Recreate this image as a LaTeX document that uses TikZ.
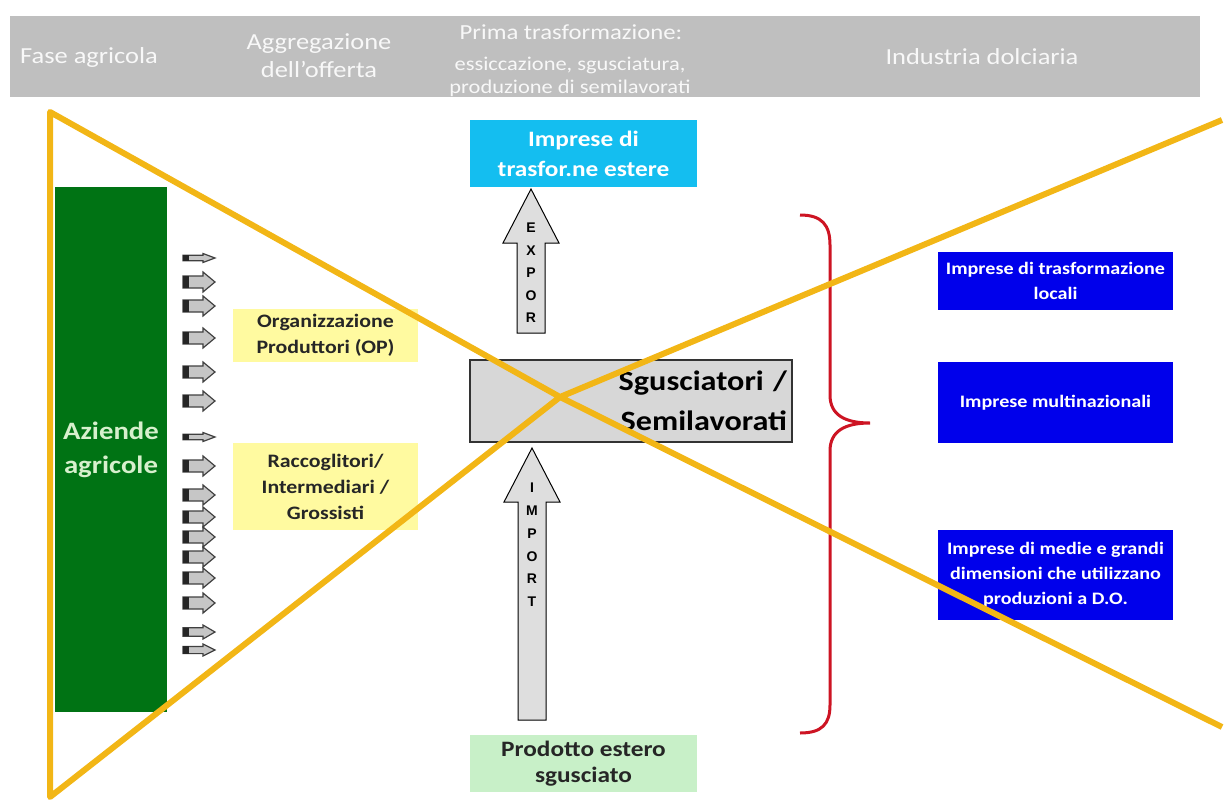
\documentclass[tikz,border=0pt]{standalone}
\usepackage{fontspec}
\setmainfont{Carlito}[FakeStretch=1.15]
\newfontfamily\arialfont{Liberation Sans}
\usepackage{tikz}

\begin{document}
\begin{tikzpicture}[x=1pt,y=-1pt,
  hdrtext/.style={text=hdrText, align=center, inner sep=0pt, font=\fontsize{23}{28}\selectfont},
  plainbox/.style={inner sep=0pt, align=center, text=black!85, font=\bfseries\fontsize{19}{26}\selectfont},
  bluebox/.style={plainbox, fill=firmBlue, text=white, minimum width=235, font=\bfseries\fontsize{17.5}{25}\selectfont},
  funnel/.style={line width=6pt, draw=funnelOrange, line join=round},
  bigarrow/.style={fill=arrowGray, draw=black, line width=1pt},
  letter/.style={inner sep=0pt, font=\arialfont\bfseries\fontsize{14}{14}\selectfont}]
\definecolor{hdrGray}{RGB}{191,191,191}
\definecolor{hdrText}{RGB}{248,248,248}
\definecolor{funnelOrange}{RGB}{242,182,22}
\definecolor{farmGreen}{RGB}{0,115,20}
\definecolor{farmText}{RGB}{215,240,205}
\definecolor{opYellow}{RGB}{255,250,160}
\definecolor{esteriCyan}{RGB}{20,190,240}
\definecolor{sguGray}{RGB}{215,215,215}
\definecolor{prodGreen}{RGB}{200,240,200}
\definecolor{firmBlue}{RGB}{0,0,235}
\definecolor{braceRed}{RGB}{205,20,35}
\definecolor{arrowGray}{RGB}{222,222,222}
\useasboundingbox (0,0) rectangle (1224,801);
% header
\fill[hdrGray] (10,16) rectangle (1200,97);
\node[hdrtext] (fase) at (89,57) {Fase agricola};
\node[hdrtext] (aggr) at (319,56) {Aggregazione\\dell'offerta};
\node[hdrtext, font=\fontsize{21.5}{28}\selectfont] (prima) at (571,32) {Prima trasformazione:};
\node[hdrtext, font=\fontsize{19.5}{23}\selectfont] (essic) at (570,76.5) {essiccazione, sgusciatura,\\produzione di semilavorati};
\node[hdrtext] (ind) at (982,57) {Industria dolciaria};
% fase agricola
\node[plainbox, fill=farmGreen, text=farmText, minimum width=112, minimum height=525, font=\bfseries\fontsize{25}{34}\selectfont] (aziende) at (111,449.5) {Aziende\\agricole};
\foreach \y/\s in {258/0.45,282/1,306/1,338/1,372/1,401/1,437/0.45,466/1,495/1,517/1,537/1,557/1,578/1,603/1,632/0.7,650/0.6}
{
  \begin{scope}[shift={(183,\y)},yscale=\s]
    \draw[fill=gray!45, draw=black!75, line width=1.2pt] (0,-6) -- (20,-6) -- (20,-10) -- (32,0) -- (20,10) -- (20,6) -- (0,6) -- cycle;
    \fill[black!85] (0,-6) rectangle (6,6);
  \end{scope}
}
% aggregazione
\node[plainbox, fill=opYellow, minimum width=185, minimum height=53] (op) at (325.5,335.5) {Organizzazione\\Produttori (OP)};
\node[plainbox, fill=opYellow, minimum width=185, minimum height=87] (racc) at (325.5,486.5) {Raccoglitori/\\Intermediari /\\Grossisti};
% prima trasformazione
\node[plainbox, fill=esteriCyan, text=white, minimum width=227, minimum height=67, font=\bfseries\fontsize{22}{30}\selectfont] (estere) at (583.5,153.5) {Imprese di\\trasfor.ne estere};
\node[draw=black!80, line width=1.5pt, fill=sguGray, text width=312, inner xsep=5, inner ysep=0pt, minimum height=82, align=right, font=\bfseries\fontsize{28}{40}\selectfont] (sgu) at (631,401) {Sgusciatori /\\Semilavorati};
\node[plainbox, fill=prodGreen, minimum width=227, minimum height=57, font=\bfseries\fontsize{22}{26}\selectfont] (prod) at (583.5,763.5) {Prodotto estero\\sgusciato};
\draw[bigarrow] (517,333) -- (517,243) -- (503,243) -- (531,189) -- (559,243) -- (545,243) -- (545,333) -- cycle;
\foreach \ch [count=\i] in {E,X,P,O,R}
  \node[letter] (ex\i) at (531,205.5+22.5*\i) {\ch};
\draw[bigarrow] (518,720) -- (518,502) -- (504,502) -- (532,448) -- (560,502) -- (546,502) -- (546,720) -- cycle;
\foreach \ch [count=\i] in {I,M,P,O,R,T}
  \node[letter] (im\i) at (532,465+22.8*\i) {\ch};
% industria dolciaria
\draw[braceRed, line width=3pt] (800,215) .. controls (822,215) and (830,225) .. (830,245) -- (830,395) .. controls (830,415) and (845,423) .. (870,423) .. controls (845,423) and (830,431) .. (830,451) -- (830,705) .. controls (830,724) and (822,733) .. (800,733);
\node[bluebox, minimum height=58] (local) at (1055.5,281) {Imprese di trasformazione\\locali};
\node[bluebox, minimum height=81] (multi) at (1055.5,402.5) {Imprese multinazionali};
\node[bluebox, minimum height=90] (medie) at (1055.5,575) {Imprese di medie e grandi\\dimensioni che utilizzano\\produzioni a D.O.};
% imbuto
\coordinate (neck) at (560,397);
\draw[funnel] (1222,120) -- (neck) -- (50,797) -- (50,112) -- (neck) -- (1222,727);
\end{tikzpicture}
\end{document}
